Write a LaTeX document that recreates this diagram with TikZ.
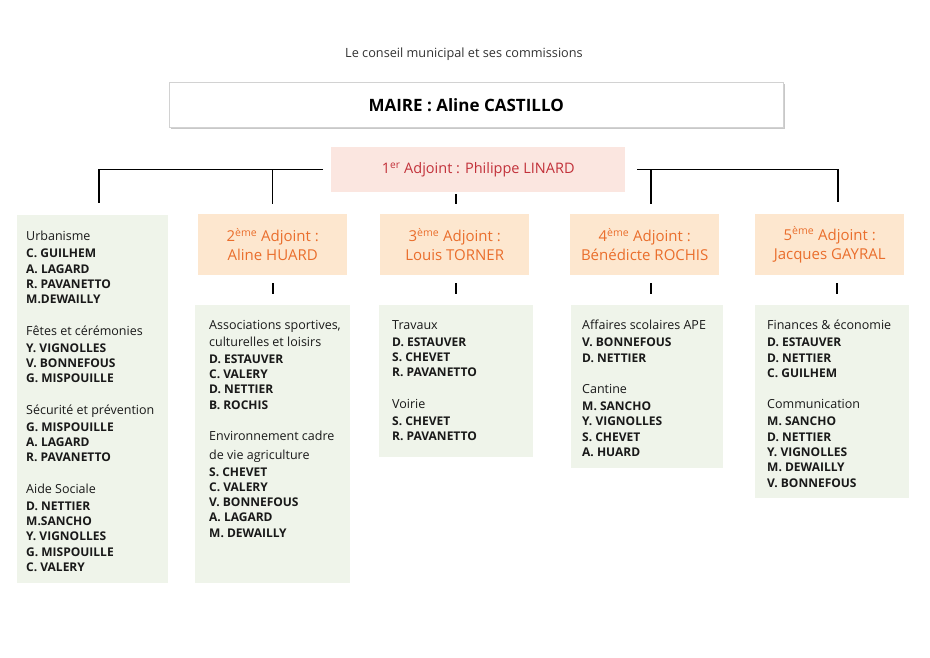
\documentclass[tikz,border=0pt]{standalone}
\usepackage{fontspec}
\setmainfont{Open Sans}
\usetikzlibrary{positioning,shadows}
\definecolor{vertpale}{HTML}{EFF4EA}
\definecolor{peche}{HTML}{FDE7CF}
\definecolor{orangeadj}{HTML}{EA6E2C}
\definecolor{rose}{HTML}{FBE6E0}
\definecolor{rougeadj}{HTML}{C2313A}
\newcommand\rubrique[1]{{\mdseries\fontsize{12.5}{15.3}\selectfont #1}}

\begin{document}
\begin{tikzpicture}[x=1pt, y=-1pt,
  trait/.style={line width=1.5pt, black},
  tiret/.style={line width=2.2pt, black},
  maire/.style={rectangle, draw=gray!35, fill=white, anchor=north west, inner sep=0pt, minimum width=614pt, minimum height=45pt, drop shadow={shadow xshift=1.5pt, shadow yshift=-2pt, fill=gray!60, opacity=.7}, font=\fontsize{17}{20}\selectfont\bfseries},
  premier/.style={rectangle, fill=rose, text=rougeadj, anchor=north west, inner sep=0pt, minimum width=294pt, minimum height=45pt, font=\fontsize{14.5}{18}\selectfont},
  adjoint/.style={rectangle, fill=peche, text=orangeadj, anchor=north west, inner sep=0pt, minimum width=149pt, minimum height=61pt, align=center, font=\fontsize{15}{19}\selectfont},
  commission/.style={rectangle, fill=vertpale, anchor=north west, inner sep=0pt},
  liste/.style={inner sep=0pt, align=left, anchor=north west, text=black!90, font=\fontsize{12}{15.3}\selectfont\bfseries}]
  \path[use as bounding box, fill=white] (0,0) rectangle (930,658);

  % Titre, maire et premier adjoint
  \node (titre) at (464,54) [font=\fontsize{12.7}{15}\selectfont, text=black!80] {Le conseil municipal et ses commissions};
  \node (maire) [maire] at (169,82) {MAIRE : Aline CASTILLO\hspace*{20pt}};
  \node (adj1) [premier] at (331,147) {1\textsuperscript{er} Adjoint : Philippe LINARD};

  % Adjoints
  \node (adj2) [adjoint] at (198,214) {2\textsuperscript{ème} Adjoint :\\ Aline HUARD};
  \node (adj3) [adjoint] at (380,214) {3\textsuperscript{ème} Adjoint :\\ Louis TORNER};
  \node (adj4) [adjoint] at (570,214) {4\textsuperscript{ème} Adjoint :\\ Bénédicte ROCHIS};
  \node (adj5) [adjoint] at (755,214) {5\textsuperscript{ème} Adjoint :\\ Jacques GAYRAL};

  % Commissions
  \node (com1) [commission, minimum width=151pt, minimum height=368pt] at (17,215) {};
  \node (com2) [commission, minimum width=155pt, minimum height=278pt] at (195,305) {};
  \node (com3) [commission, minimum width=154pt, minimum height=152pt] at (379,305) {};
  \node (com4) [commission, minimum width=152pt, minimum height=163pt] at (571,305) {};
  \node (com5) [commission, minimum width=154pt, minimum height=193pt] at (755,305) {};

  \node (liste1) [liste, below right=16pt and 9pt of com1.north west] {\rubrique{Urbanisme}\\[1.7pt] C. GUILHEM\\ A. LAGARD\\ R. PAVANETTO\\ M.DEWAILLY\\[16.2pt]
    \rubrique{Fêtes et cérémonies}\\[1.7pt] Y. VIGNOLLES\\ V. BONNEFOUS\\ G. MISPOUILLE\\[16.2pt]
    \rubrique{Sécurité et prévention}\\[1.7pt] G. MISPOUILLE\\ A. LAGARD\\ R. PAVANETTO\\[16.2pt]
    \rubrique{Aide Sociale}\\[1.7pt] D. NETTIER\\ M.SANCHO\\ Y. VIGNOLLES\\ G. MISPOUILLE\\ C. VALERY};
  \node (liste2) [liste, below right=15pt and 14pt of com2.north west] {\rubrique{Associations sportives,}\\[1.7pt] \rubrique{culturelles et loisirs}\\[1.7pt] D. ESTAUVER\\ C. VALERY\\ D. NETTIER\\ B. ROCHIS\\[16.2pt]
    \rubrique{Environnement cadre}\\[3pt] \rubrique{de vie agriculture}\\[1.7pt] S. CHEVET\\ C. VALERY\\ V. BONNEFOUS\\ A. LAGARD\\ M. DEWAILLY};
  \node (liste3) [liste, below right=15pt and 13pt of com3.north west] {\rubrique{Travaux}\\[1.7pt] D. ESTAUVER\\ S. CHEVET\\ R. PAVANETTO\\[16.2pt]
    \rubrique{Voirie}\\[1.7pt] S. CHEVET\\ R. PAVANETTO};
  \node (liste4) [liste, below right=15pt and 11pt of com4.north west] {\rubrique{Affaires scolaires APE}\\[1.7pt] V. BONNEFOUS\\ D. NETTIER\\[16.2pt]
    \rubrique{Cantine}\\[1.7pt] M. SANCHO\\ Y. VIGNOLLES\\ S. CHEVET\\ A. HUARD};
  \node (liste5) [liste, below right=15pt and 12pt of com5.north west] {\rubrique{Finances \& économie}\\[1.7pt] D. ESTAUVER\\ D. NETTIER\\ C. GUILHEM\\[16.2pt]
    \rubrique{Communication}\\[1.7pt] M. SANCHO\\ D. NETTIER\\ Y. VIGNOLLES\\ M. DEWAILLY\\ V. BONNEFOUS};

  % Liaisons
  \draw[trait, shorten >=12pt] ([xshift=-8pt]adj1.west) -| ([xshift=6.5pt]com1.north);
  \draw[trait, shorten >=10pt] (adj2.north |- adj1.west) -- (adj2.north);
  \draw[trait, shorten >=12pt] ([xshift=12pt]adj1.east) -| ([xshift=8.5pt]adj5.north);
  \draw[trait, shorten >=10pt] ([xshift=6.5pt]adj4.north |- adj1.east) -- ([xshift=6.5pt]adj4.north);
  \draw[tiret, shorten <=2pt, shorten >=10pt] ([xshift=1.5pt]adj3.north |- adj1.south) -- ([xshift=1.5pt]adj3.north);
  \foreach \i/\dx in {2/0,3/1.5,4/6.5,5/7.5}
    \draw[tiret, shorten <=8pt, shorten >=11pt] ([xshift=\dx pt]adj\i.south) -- ([xshift=\dx pt]adj\i.south |- com\i.north);
\end{tikzpicture}
\end{document}
